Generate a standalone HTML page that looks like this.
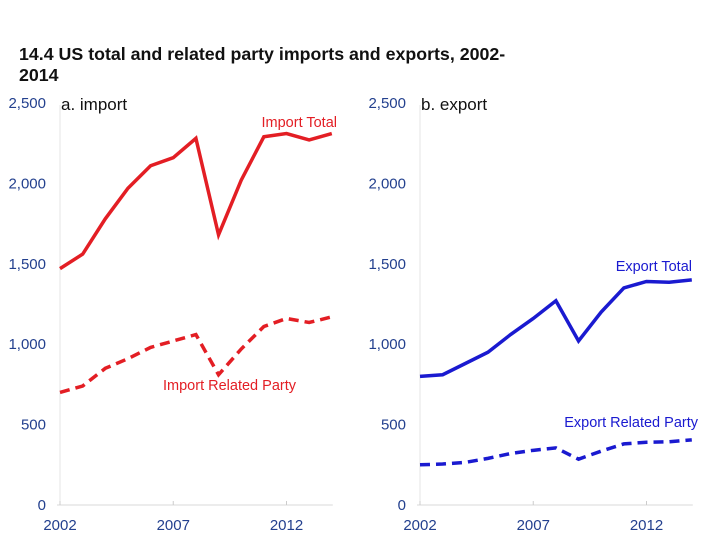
<!DOCTYPE html>
<html><head><meta charset="utf-8"><style>
body{margin:0;background:#fff;width:720px;height:540px;overflow:hidden;font-family:"Liberation Sans",sans-serif}
#title{position:absolute;left:19px;top:44px;font-size:17.8px;font-weight:bold;color:#111;line-height:21px;width:600px}
</style></head><body>
<div id="title">14.4 US total and related party imports and exports, 2002-<br>2014</div>
<svg id="svg" width="720" height="540" style="position:absolute;left:0;top:0;z-index:-1"></svg>
<script>
const years=[2002,2003,2004,2005,2006,2007,2008,2009,2010,2011,2012,2013,2014];
const importTotal=[1470,1560,1780,1970,2110,2160,2280,1680,2020,2290,2310,2270,2310];
const importRelated=[700,740,850,910,980,1020,1060,810,970,1110,1160,1135,1170];
const exportTotal=[800,810,880,950,1060,1160,1270,1020,1200,1350,1390,1385,1400];
const exportRelated=[250,255,265,290,320,340,355,285,335,380,390,393,405];
const yTicks=[0,500,1000,1500,2000,2500];
const xTicks=[2002,2007,2012];
const svg=document.getElementById('svg');
const NS='http://www.w3.org/2000/svg';
function mk(t,a){const e=document.createElementNS(NS,t);for(const k in a)e.setAttribute(k,a[k]);svg.appendChild(e);return e;}
function panel(x0,name,label,s1,s2,color,lab1,lab1pos,lab2,lab2pos){
  const xs=v=>x0+(v-2002)*22.65;
  const ys=v=>505-v*0.1608;
  let e=mk('line',{x1:x0,y1:ys(0),x2:x0,y2:ys(2500)+2,stroke:'#e4e4e4','stroke-width':1});
  
  
  e=mk('line',{x1:x0-3,y1:ys(0),x2:xs(2014)+1,y2:ys(0),stroke:'#d8d8d8','stroke-width':1});
  
  
  yTicks.forEach(v=>{
    const t=mk('text',{x:x0-14,y:ys(v)+5,'text-anchor':'end','font-size':'15',fill:'#23408e'});
    t.textContent=v.toLocaleString('en-US');
    
    
  });
  xTicks.forEach(v=>{
    const l=mk('line',{x1:xs(v),y1:ys(0),x2:xs(v),y2:ys(0)-4,stroke:'#ccc'});
    
    
    const t=mk('text',{x:xs(v),y:ys(0)+25,'text-anchor':'middle','font-size':'15',fill:'#23408e'});
    t.textContent=v;
    
    
  });
  const pl=mk('text',{x:x0+1,y:110,'font-size':'17',fill:'#111'});
  pl.textContent=label;
  
  
  const pts=arr=>arr.map((v,i)=>xs(years[i])+','+ys(v)).join(' ');
  let p=mk('polyline',{points:pts(s1),fill:'none',stroke:color,'stroke-width':3.5,'stroke-linejoin':'miter'});
  
  
  p=mk('polyline',{points:pts(s2),fill:'none',stroke:color,'stroke-width':3.5,'stroke-dasharray':'10,6'});
  
  
  let t=mk('text',{x:lab1pos[0],y:lab1pos[1],'font-size':'14.5',fill:color,'text-anchor':'end'});
  t.textContent=lab1;
  
  
  t=mk('text',{x:lab2pos[0],y:lab2pos[1],'font-size':'14.5',fill:color,'text-anchor':'end'});
  t.textContent=lab2;
  
  
}
panel(60,'import','a. import',importTotal,importRelated,'#e31e24','Import Total',[337,127],'Import Related Party',[296,390]);
panel(420,'export','b. export',exportTotal,exportRelated,'#1a1ad0','Export Total',[692,271],'Export Related Party',[698,427]);
</script>
</body></html>
